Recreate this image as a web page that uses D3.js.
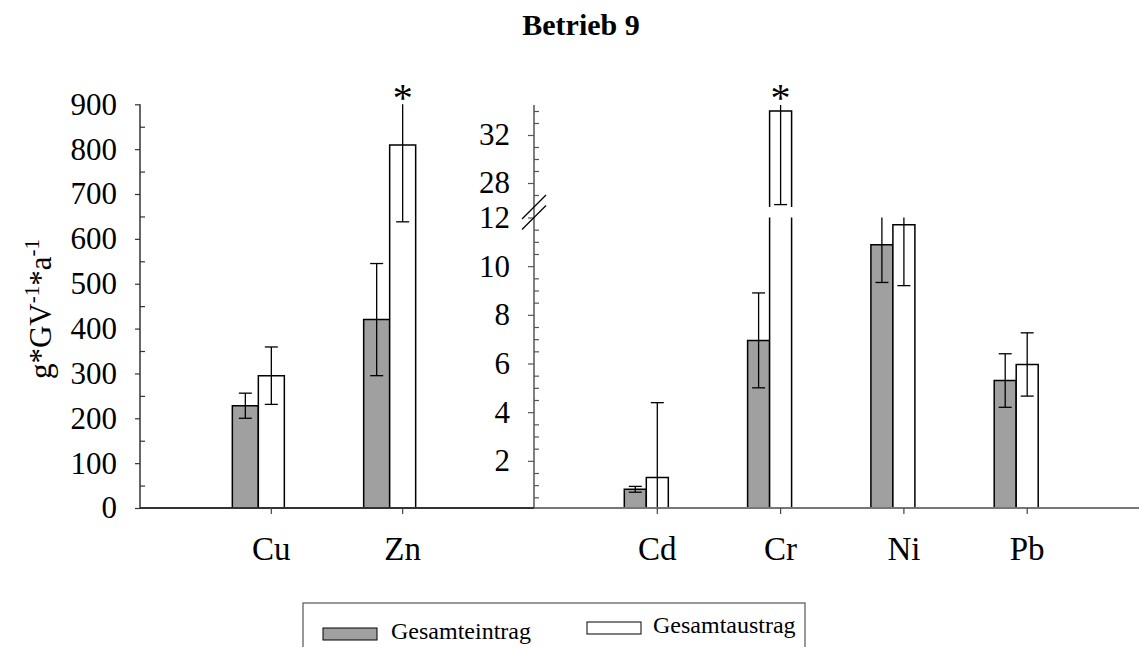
<!DOCTYPE html>
<html>
<head>
<meta charset="utf-8">
<script src="https://cdn.jsdelivr.net/npm/d3@7"></script>
<style>
  body { margin: 0; background: #fff; }
  svg { font-family: "Liberation Serif", "Times New Roman", serif; }
</style>
</head>
<body>
<div id="chart"></div>
<script>
// data
const leftCategories = ["Cu", "Zn"];
const leftEintrag = [228, 420];
const leftEintragErr = [28, 125];
const leftAustrag = [295, 809];
const leftAustragErr = [64, 171];

const rightCategories = ["Cd", "Cr", "Ni", "Pb"];
const rightEintrag = [0.83, 6.95, 10.88, 5.3];
const rightEintragErr = [0.12, 1.95, 1.55, 1.1];
const rightAustrag = [1.32, 34.0, 11.7, 5.96];
const rightAustragErr = [3.07, 7.8, 2.5, 1.3];

const significant = ["Zn", "Cr"];

const leftTicks = d3.range(0, 901, 100);
const leftMinor = d3.range(50, 900, 100);
const rightLowTicks = [2, 4, 6, 8, 10, 12];
const rightLowMinor = d3.range(0.5, 12, 0.5).filter(v => v % 2 !== 0);
const rightHighTicks = [28, 32];
const rightHighMinor = [27, 29, 30, 31, 33, 34];

const seriesLabels = ["Gesamteintrag", "Gesamtaustrag"];
const colors = ["#a0a0a0", "#ffffff"];

const width = 1139, height = 647;
const baseY = 508;

const svg = d3.select("#chart")
  .append("svg")
    .attr("width", width)
    .attr("height", height);

// scales
const xL = d3.scaleLinear().domain([0, 3]).range([140, 534]);
const xR = d3.scaleLinear().domain([0, 5]).range([534, 1150.5]);
const yL = d3.scaleLinear().domain([0, 900]).range([baseY, 104.3]);
const yRlow = d3.scaleLinear().domain([0, 12]).range([509.5, 217.5]);
const yRhigh = d3.scaleLinear().domain([26, 34.5]).range([207, 105]);

const leftSegments = [{scale: yL, lo: 0, hi: 900}];
const rightSegments = [{scale: yRlow, lo: 0, hi: 12}, {scale: yRhigh, lo: 26, hi: 34.5}];

// bars + error bars, clipped to each axis segment
const drawBar = (g, x0, w, value, err, fill, segments) => {
  segments.forEach(seg => {
    const y = seg.scale;
    const top = Math.min(value, seg.hi);
    const bottom = seg.lo;
    if (top > bottom) {
      const yt = seg.lo === 0 ? Math.min(y(top), baseY) : y(top);
      const yb = seg.lo === 0 ? baseY : y(bottom);
      g.append("rect")
        .attr("x", x0).attr("y", yt)
        .attr("width", w).attr("height", yb - yt)
        .attr("fill", fill);
      const path = d3.path();
      path.moveTo(x0, yb); path.lineTo(x0, yt);
      if (value <= seg.hi) path.lineTo(x0 + w, yt); else path.moveTo(x0 + w, yt);
      path.lineTo(x0 + w, yb);
      g.append("path")
        .attr("d", path.toString())
        .attr("fill", "none")
        .attr("stroke", "#000")
        .attr("stroke-width", 1.5);
    }
    // whisker
    const lo = value - err, hi = value + err;
    const a = Math.max(lo, seg.lo), b = Math.min(hi, seg.hi);
    if (b > a) {
      const cx = x0 + w / 2;
      g.append("line")
        .attr("x1", cx).attr("x2", cx)
        .attr("y1", Math.min(y(a), baseY)).attr("y2", y(b))
        .attr("stroke", "#000").attr("stroke-width", 1.3);
      [[lo, lo >= seg.lo && lo <= seg.hi], [hi, hi >= seg.lo && hi <= seg.hi]].forEach(([v, show]) => {
        if (!show) return;
        g.append("line")
          .attr("x1", cx - 6.5).attr("x2", cx + 6.5)
          .attr("y1", y(v)).attr("y2", y(v))
          .attr("stroke", "#000").attr("stroke-width", 1.3);
      });
    }
  });
};

const bars = svg.append("g");
leftCategories.forEach((c, i) => {
  const x = xL(i + 1), w = 26;
  drawBar(bars, x - 13 - w, w, leftEintrag[i], leftEintragErr[i], colors[0], leftSegments);
  drawBar(bars, x - 13, w, leftAustrag[i], leftAustragErr[i], colors[1], leftSegments);
});
rightCategories.forEach((c, i) => {
  const x = xR(i + 1), w = 22;
  drawBar(bars, x - 11 - w, w, rightEintrag[i], rightEintragErr[i], colors[0], rightSegments);
  drawBar(bars, x - 11, w, rightAustrag[i], rightAustragErr[i], colors[1], rightSegments);
});

// baseline
svg.append("line")
  .attr("x1", 140).attr("x2", 534).attr("y1", baseY).attr("y2", baseY)
  .attr("stroke", "#333").attr("stroke-width", 2);
svg.append("line")
  .attr("x1", 534).attr("x2", width).attr("y1", baseY).attr("y2", baseY)
  .attr("stroke", "#777").attr("stroke-width", 2);

// category ticks + labels
const catG = svg.append("g").style("font-size", "33px");
const cats = leftCategories.map((c, i) => ({c, x: xL(i + 1)}))
  .concat(rightCategories.map((c, i) => ({c, x: xR(i + 1)})));
cats.forEach(d => {
  catG.append("line")
    .attr("x1", d.x).attr("x2", d.x).attr("y1", baseY).attr("y2", baseY + 6)
    .attr("stroke", "#444").attr("stroke-width", 1.2);
  catG.append("text")
    .attr("x", d.x).attr("y", 560)
    .attr("text-anchor", "middle")
    .text(d.c);
});

// significance stars
significant.forEach(c => {
  const li = leftCategories.indexOf(c);
  const x = li >= 0 ? xL(li + 1) : xR(rightCategories.indexOf(c) + 1);
  svg.append("text")
    .attr("x", x).attr("y", 111)
    .attr("text-anchor", "middle")
    .style("font-size", "40px")
    .text("*");
});

// axes
const styleAxis = (g, stroke) => {
  g.selectAll("path.domain").remove();
  g.selectAll(".tick line").attr("stroke", stroke).attr("stroke-width", 1.2);
  g.selectAll(".tick text").style("font-size", "31px").style("font-family", "Liberation Serif").attr("fill", "#000");
};

const leftAxis = svg.append("g")
  .attr("transform", `translate(140,0)`)
  .call(d3.axisLeft(yL).tickValues(leftTicks).tickSize(5).tickPadding(18));
styleAxis(leftAxis, "#333");
const leftMinorAxis = svg.append("g")
  .attr("transform", `translate(140,0)`)
  .call(d3.axisRight(yL).tickValues(leftMinor).tickSize(5).tickFormat(""));
styleAxis(leftMinorAxis, "#333");
svg.append("line")
  .attr("x1", 140).attr("x2", 140).attr("y1", baseY).attr("y2", yL(900))
  .attr("stroke", "#333").attr("stroke-width", 1.5);

const rx = 534;
[[yRlow, rightLowTicks, rightLowMinor], [yRhigh, rightHighTicks, rightHighMinor]].forEach(([scale, major, minor]) => {
  const gMaj = svg.append("g")
    .attr("transform", `translate(${rx},0)`)
    .call(d3.axisLeft(scale).tickValues(major).tickSize(6).tickPadding(18));
  styleAxis(gMaj, "#555");
  const gMin = svg.append("g")
    .attr("transform", `translate(${rx},0)`)
    .call(d3.axisRight(scale).tickValues(minor).tickSize(5).tickFormat(""));
  styleAxis(gMin, "#555");
});
svg.append("line")
  .attr("x1", rx).attr("x2", rx).attr("y1", baseY).attr("y2", 105)
  .attr("stroke", "#555").attr("stroke-width", 1.5);

// axis break marks
[yRhigh(26), yRlow(12)].forEach(y => {
  svg.append("line")
    .attr("x1", rx - 12).attr("x2", rx + 12)
    .attr("y1", y + 12).attr("y2", y - 12)
    .attr("stroke", "#000").attr("stroke-width", 1.2);
});

// title
svg.append("text")
  .attr("x", 581).attr("y", 35)
  .attr("text-anchor", "middle")
  .style("font-size", "30px")
  .style("font-weight", "bold")
  .text("Betrieb 9");

// y label
const yLabel = svg.append("text")
  .attr("transform", "translate(51,309) rotate(-90)")
  .attr("text-anchor", "middle")
  .style("font-size", "31px");
yLabel.append("tspan").text("g*GV");
yLabel.append("tspan").attr("baseline-shift", "super").style("font-size", "21px").text("-1");
yLabel.append("tspan").text("*a");
yLabel.append("tspan").attr("baseline-shift", "super").style("font-size", "21px").text("-1");

// legend
const legend = svg.append("g");
legend.append("rect")
  .attr("x", 303).attr("y", 603)
  .attr("width", 502).attr("height", 60)
  .attr("fill", "none")
  .attr("stroke", "#555").attr("stroke-width", 1.2);
const legendItems = [
  {x: 323, y: 628, tx: 391, ty: 639},
  {x: 587, y: 622, tx: 653, ty: 633}
];
seriesLabels.forEach((label, i) => {
  const it = legendItems[i];
  legend.append("rect")
    .attr("x", it.x).attr("y", it.y)
    .attr("width", 54).attr("height", 12)
    .attr("fill", colors[i])
    .attr("stroke", "#000").attr("stroke-width", 1);
  legend.append("text")
    .attr("x", it.tx).attr("y", it.ty)
    .style("font-size", "24px")
    .text(label);
});
</script>
</body>
</html>
